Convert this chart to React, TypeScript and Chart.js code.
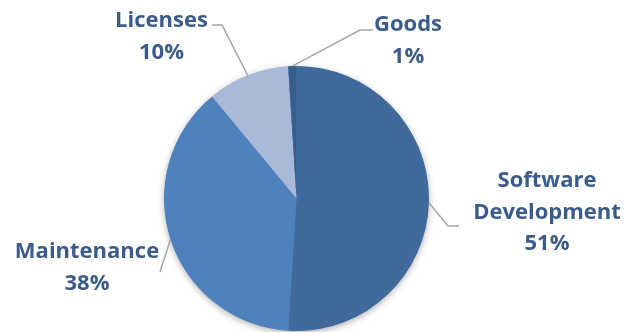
import React, { useEffect, useRef } from "react";
import { Chart, registerables } from "chart.js";

Chart.register(...registerables);

const categories = ["Software Development", "Maintenance", "Licenses", "Goods"];
const labelLines = [["Software", "Development", "51%"], ["Maintenance", "38%"], ["Licenses", "10%"], ["Goods", "1%"]];
const values = [51, 38, 10, 1];
const colors = ["#3F6A9B", "#4F81BD", "#A9BAD9", "#365D8C"];

// label layout: text center x, first baseline y, leader path (from arc edge to these points)
const labelLayout = [
  { cx: 547, by: 187, path: [[448, 226], [459, 226]] },
  { cx: 87, by: 258, path: [[160, 272]] },
  { cx: 161.5, by: 27, path: [[222, 25], [212, 25]] },
  { cx: 408, by: 31, path: [[360, 30], [373, 30]] },
];

const LINE_H = 31.5;
const TEXT_COLOR = "#3B5C8B";

const labelPlugin = {
  id: "pieLabels",
  beforeDatasetsDraw(chart: any) {
    const meta = chart.getDatasetMeta(0);
    const a = meta.data[0];
    if (!a) return;
    const ctx = chart.ctx;
    ctx.save();
    ctx.shadowColor = "rgba(0,0,0,0.35)";
    ctx.shadowBlur = 7;
    ctx.shadowOffsetX = 0;
    ctx.shadowOffsetY = 2;
    ctx.fillStyle = "#4F81BD";
    ctx.beginPath();
    ctx.arc(a.x, a.y, a.outerRadius - 0.5, 0, Math.PI * 2);
    ctx.fill();
    ctx.restore();
  },
  afterDatasetsDraw(chart: any) {
    const meta = chart.getDatasetMeta(0);
    const ctx = chart.ctx;
    ctx.save();
    meta.data.forEach((arc: any, i: number) => {
      const mid = (arc.startAngle + arc.endAngle) / 2;
      const sx = arc.x + Math.cos(mid) * arc.outerRadius;
      const sy = arc.y + Math.sin(mid) * arc.outerRadius;
      const lay = labelLayout[i];
      ctx.strokeStyle = "#A6A6A6";
      ctx.lineWidth = 1.5;
      ctx.beginPath();
      ctx.moveTo(sx, sy);
      lay.path.forEach((p) => ctx.lineTo(p[0], p[1]));
      ctx.stroke();
      ctx.fillStyle = TEXT_COLOR;
      ctx.font = "bold 22px 'Open Sans'";
      ctx.textAlign = "center";
      ctx.textBaseline = "alphabetic";
      labelLines[i].forEach((t, j) => {
        ctx.fillText(t, lay.cx, lay.by + j * LINE_H);
      });
    });
    ctx.restore();
  },
};

export default function App() {
  const ref = useRef<HTMLCanvasElement>(null);
  useEffect(() => {
    const chart = new Chart(ref.current!, {
      type: "pie",
      data: {
        labels: categories,
        datasets: [{ data: values, backgroundColor: colors, borderWidth: 0 }],
      },
      options: {
        responsive: false,
        animation: false,
        layout: { padding: { left: 164, right: 211, top: 66, bottom: 9 } },
        plugins: { legend: { display: false }, tooltip: { enabled: false } },
      },
      plugins: [labelPlugin],
    });
    return () => chart.destroy();
  }, []);
  return (
    <div style={{ position: "fixed", left: 0, top: 0, width: 640, height: 332, overflow: "hidden", background: "#fff" }}>
      <canvas ref={ref} width={640} height={340} style={{ width: 640, height: 340, display: "block" }} />
    </div>
  );
}
